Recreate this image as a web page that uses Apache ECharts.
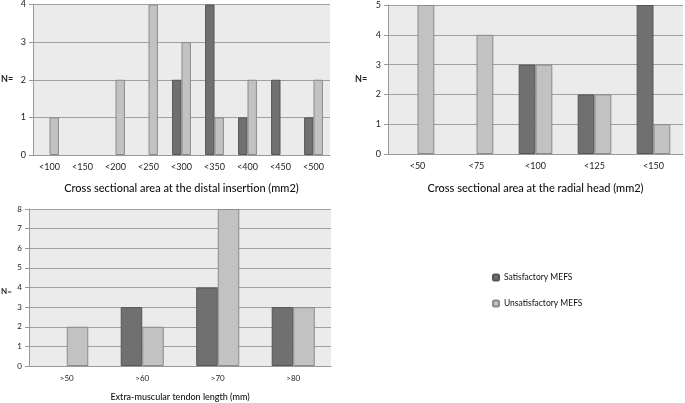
<!DOCTYPE html>
<html><head><meta charset="utf-8">
<script src="https://cdn.jsdelivr.net/npm/echarts@6/dist/echarts.min.js"></script>
<style>html,body{margin:0;padding:0;background:#fff}#c{width:685px;height:403px}</style>
</head><body><div id="c"></div>
<script>
const catsDistal = ['<100','<150','<200','<250','<300','<350','<400','<450','<500'];
const satDistal = [0,0,0,0,2,4,1,2,1];
const unsatDistal = [1,0,2,4,3,1,2,0,2];

const catsRadial = ['<50','<75','<100','<125','<150'];
const satRadial = [0,0,3,2,5];
const unsatRadial = [5,4,3,2,1];

const catsTendon = ['>50','>60','>70','>80'];
const satTendon = [0,3,4,3];
const unsatTendon = [2,2,8,3];

const titles = ['Cross sectional area at the distal insertion (mm2)','Cross sectional area at the radial head (mm2)','Extra-muscular tendon length (mm)'];
const seriesNames = ['Satisfactory MEFS','Unsatisfactory MEFS'];

const FONT = 'Lato';
const darkC = '#707070', lightC = '#c2c2c2';
const chart = echarts.init(document.getElementById('c'));

function xAx(idx, cats, fs, title, tfs, gap){
  return {type:'category', gridIndex:idx, data:cats,
    axisLine:{lineStyle:{color:'#999'}},
    axisTick:{length:4, lineStyle:{color:'#999'}},
    axisLabel:{fontFamily:FONT, fontSize:fs, color:'#222', margin:8},
    name:title, nameLocation:'middle', nameGap:gap,
    nameTextStyle:{fontFamily:FONT, fontSize:tfs, color:'#111', fontWeight:500}};
}
function yAx(idx, max, fs){
  return {type:'value', gridIndex:idx, min:0, max:max, interval:1,
    axisLine:{show:true, lineStyle:{color:'#999'}},
    axisTick:{show:true, length:4, lineStyle:{color:'#999'}},
    axisLabel:{fontFamily:FONT, fontSize:fs, color:'#222', margin:7},
    splitLine:{lineStyle:{color:'#a0a0a0'}}};
}
function bars(idx, data, nameIdx){
  return {type:'bar', name:seriesNames[nameIdx], xAxisIndex:idx, yAxisIndex:idx,
    data:data.map(v => v === 0 ? null : v),
    barGap:'0%', barCategoryGap:'43%',
    itemStyle:{color: nameIdx===0?darkC:lightC, borderColor: nameIdx===0?'#555':'#8a8a8a', borderWidth:1}};
}

chart.setOption({
  animation:false,
  grid:[
    {left:33, top:3, width:297, height:152, show:true, backgroundColor:'#ebebeb', borderWidth:0},
    {left:388, top:5, width:295, height:149, show:true, backgroundColor:'#ebebeb', borderWidth:0},
    {left:29, top:209, width:302, height:161, show:true, backgroundColor:'#ebebeb', borderWidth:0}
  ],
  xAxis:[
    xAx(0, catsDistal, 9, titles[0], 11, 28),
    xAx(1, catsRadial, 9, titles[1], 11, 29),
    xAx(2, catsTendon, 8, titles[2], 9, 27)
  ],
  yAxis:[yAx(0,4,9), yAx(1,5,9), yAx(2,8,8)],
  legend:{orient:'vertical', left:487, top:268, itemWidth:6, itemHeight:6, itemGap:17,
    textStyle:{fontFamily:FONT, fontSize:8.5, color:'#111'},
    data:seriesNames},
  graphic:[
    {type:'text', left:1, top:75, style:{text:'N=', font:'bold 9px Lato', fill:'#222'}},
    {type:'text', left:355, top:75, style:{text:'N=', font:'bold 9px Lato', fill:'#222'}},
    {type:'text', left:1, top:287, style:{text:'N=', font:'bold 8px Lato', fill:'#222'}}
  ],
  series:[
    bars(0, satDistal, 0), bars(0, unsatDistal, 1),
    bars(1, satRadial, 0), bars(1, unsatRadial, 1),
    bars(2, satTendon, 0), bars(2, unsatTendon, 1)
  ]
});
</script></body></html>
